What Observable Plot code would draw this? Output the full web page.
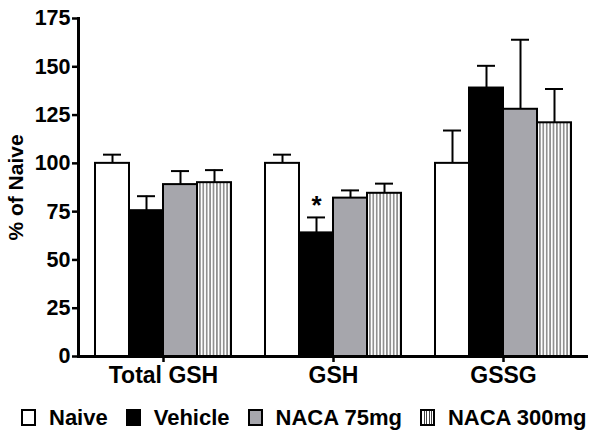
<!DOCTYPE html>
<html>
<head>
<meta charset="utf-8">
<script src="https://cdn.jsdelivr.net/npm/d3@7"></script>
<script src="https://cdn.jsdelivr.net/npm/@observablehq/plot@0.6"></script>
<style>
  html, body { margin: 0; padding: 0; background: #fff; }
  #chart { width: 601px; font-family: "Liberation Sans", Arial, sans-serif; }
  .legend { display: flex; align-items: center; height: 45px; padding-left: 21px; font-weight: bold; font-size: 22px; color: #000; white-space: nowrap; width: 601px; box-sizing: border-box; }
  .item { display: flex; align-items: center; margin-right: 18px; flex: none; white-space: nowrap; }
  .sw { box-sizing: border-box; width: 15px; height: 17px; border: 2px solid #000; margin-right: 13px; flex: none; }
</style>
</head>
<body>
<div id="chart"></div>
<script>
const categories = ["Total GSH", "GSH", "GSSG"];
const groups = ["Naive", "Vehicle", "NACA 75mg", "NACA 300mg"];
const naiveMean   = [100, 100, 100];
const vehicleMean = [75.5, 64, 139];
const naca75Mean  = [89, 82, 128];
const naca300Mean = [90, 84.5, 121];
const naiveSem    = [4.5, 4.5, 17];
const vehicleSem  = [7.5, 8, 11.5];
const naca75Sem   = [7, 4, 36];
const naca300Sem  = [6.5, 5, 17.5];
const yTicks = [0, 25, 50, 75, 100, 125, 150, 175];
const significant = [{category: "GSH", group: "Vehicle"}];
const groupColors = ["#ffffff", "#000000", "#a6a6ac", "url(#stripes)"];

const meansByGroup = [naiveMean, vehicleMean, naca75Mean, naca300Mean];
const semsByGroup = [naiveSem, vehicleSem, naca75Sem, naca300Sem];
const data = categories.flatMap((c, i) => groups.map((g, j) => ({
  category: c, group: g, mean: meansByGroup[j][i], sem: semsByGroup[j][i]
})));
const sigData = data.filter(d => significant.some(s => s.category === d.category && s.group === d.group));

const font = "Liberation Sans, Arial, sans-serif";
const svg = Plot.plot({
  width: 601,
  height: 395,
  marginLeft: 77,
  marginRight: 13,
  marginTop: 18,
  marginBottom: 39,
  style: {fontFamily: font, background: "white", color: "black"},
  fx: {domain: categories, padding: 0, label: null},
  x: {domain: groups, paddingInner: 0, paddingOuter: 0.5, axis: null},
  y: {domain: [0, 175], axis: null},
  color: {domain: groups, range: groupColors},
  marks: [
    Plot.barY(data, {fx: "category", x: "group", y: "mean", fill: "group", stroke: "black", strokeWidth: 2}),
    Plot.ruleX(data, {fx: "category", x: "group", y1: "mean", y2: d => d.mean + d.sem, stroke: "black", strokeWidth: 2}),
    Plot.tickY(data, {fx: "category", x: "group", y: d => d.mean + d.sem, stroke: "black", strokeWidth: 2, insetLeft: 8, insetRight: 8}),
    Plot.text(sigData, {fx: "category", x: "group", y: d => d.mean + d.sem, text: () => "*", dy: -12, fontSize: 26, fontWeight: "bold", lineAnchor: "middle"}),
    Plot.ruleY([0], {stroke: "black", strokeWidth: 3}),
    Plot.frame({anchor: "left", facetAnchor: "left", stroke: "black", strokeWidth: 3}),
    Plot.axisY({ticks: yTicks, tickSize: 6, tickPadding: 2, strokeWidth: 2.5, fontSize: 21.5, fontWeight: "bold", label: "% of Naive", labelAnchor: "center", labelOffset: 70, labelArrow: "none"}),
    Plot.axisFx({anchor: "bottom", tickSize: 6, tickPadding: 4, strokeWidth: 2.5, fontSize: 23, fontWeight: "bold", label: null})
  ]
});

d3.select(svg).insert("defs", ":first-child").html(
  '<pattern id="stripes" patternUnits="userSpaceOnUse" width="3.4" height="10">' +
  '<rect width="3.4" height="10" fill="white"/>' +
  '<rect x="1.2" width="1" height="10" fill="#444"/></pattern>'
);
d3.select(svg).selectAll("[aria-label='y-axis label'] text, [aria-label='y-axis label']").attr("font-size", 21).attr("font-weight", "bold");

const chart = document.getElementById("chart");
chart.appendChild(svg);

const legend = document.createElement("div");
legend.className = "legend";
const swatchBg = ["#ffffff", "#000000", "#a6a6ac", "repeating-linear-gradient(90deg, #fff 0px, #fff 1.5px, #444 1.5px, #444 2.5px)"];
groups.forEach((g, i) => {
  const item = document.createElement("div");
  item.className = "item";
  const sw = document.createElement("span");
  sw.className = "sw";
  sw.style.background = swatchBg[i];
  const t = document.createElement("span");
  t.textContent = g;
  item.appendChild(sw);
  item.appendChild(t);
  legend.appendChild(item);
});
chart.appendChild(legend);
</script>
</body>
</html>
